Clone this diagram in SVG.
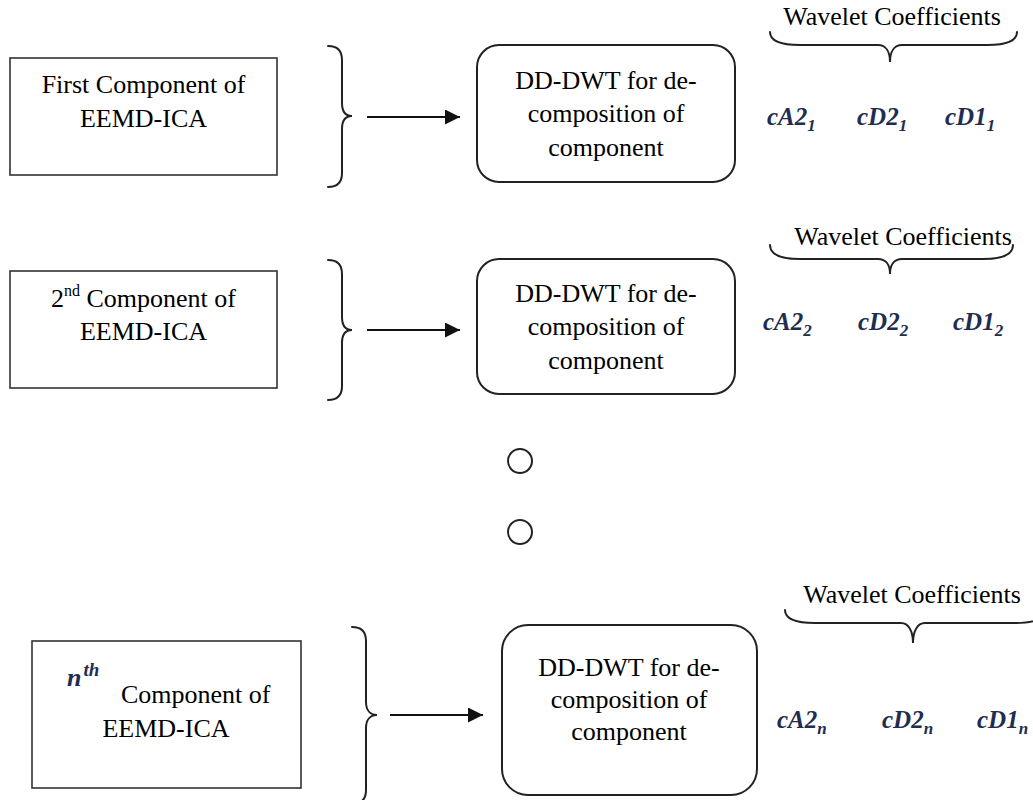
<svg xmlns="http://www.w3.org/2000/svg" width="1033" height="800" viewBox="0 0 1033 800">
<style>
  .t { font-family: "Liberation Serif", "Times New Roman", Times, "DejaVu Serif", serif; font-size: 26px; fill: #000; }
  .c { text-anchor: middle; }
  .m { font-family: "Liberation Serif", "Times New Roman", Times, "DejaVu Serif", serif; font-style: italic; font-weight: bold; font-size: 25px; fill: #202c50; }
  .box { fill: #fff; stroke: #333; stroke-width: 1.6; }
  .rbox { fill: #fff; stroke: #222; stroke-width: 2; }
  .brace { fill: none; stroke: #222; stroke-width: 2; stroke-linecap: round; }
  .arrow { stroke: #111; stroke-width: 2; fill: none; marker-end: url(#ah); }
  .dot { fill: none; stroke: #222; stroke-width: 2; }
</style>
<defs>
  <marker id="ah" markerWidth="15" markerHeight="15" refX="15" refY="7.5" orient="auto" markerUnits="userSpaceOnUse">
    <path d="M0,0 L15,7.5 L0,15 Z" fill="#111"/>
  </marker>
</defs>
<rect width="1033" height="800" fill="#fff"/>

<!-- Row 1 -->
<g id="comp1">
  <rect class="box" x="10" y="58" width="267" height="117"/>
  <text class="t c" x="143.5" y="93">First Component of</text>
  <text class="t c" x="143.5" y="127">EEMD-ICA</text>
</g>
<g id="dwt1">
  <rect class="rbox" x="477" y="45" width="258" height="137" rx="22" ry="22"/>
  <text class="t c" x="606" y="89">DD-DWT for de-</text>
  <text class="t c" x="606" y="122">composition of</text>
  <text class="t c" x="606" y="156">component</text>
</g>
<g id="coef1">
  <text class="t c" x="892" y="25">Wavelet Coefficients</text>
  <path class="brace" d="M770,32 C770,41 780,45 800,45 L878,45 C886,45 890,52 890,62 C890,52 894,45 902,45 L987,45 C1007,45 1017,41 1017,32"/>
  <text class="m" x="767" y="125">cA2<tspan font-size="17" dy="6">1</tspan></text>
  <text class="m" x="857" y="125">cD2<tspan font-size="17" dy="6">1</tspan></text>
  <text class="m" x="945" y="125">cD1<tspan font-size="17" dy="6">1</tspan></text>
</g>

<!-- Row 2 -->
<g id="comp2">
  <rect class="box" x="10" y="271" width="267" height="117"/>
  <text class="t c" x="143.5" y="307">2<tspan font-size="16" dy="-11">nd</tspan><tspan dy="11"> Component of</tspan></text>
  <text class="t c" x="143.5" y="340">EEMD-ICA</text>
</g>
<g id="dwt2">
  <rect class="rbox" x="477" y="259" width="258" height="135" rx="22" ry="22"/>
  <text class="t c" x="606" y="302">DD-DWT for de-</text>
  <text class="t c" x="606" y="335">composition of</text>
  <text class="t c" x="606" y="369">component</text>
</g>
<g id="coef2">
  <text class="t c" x="903" y="245">Wavelet Coefficients</text>
  <path class="brace" d="M770,245 C770,254 780,259 800,259 L878,259 C886,259 890,265 890,274 C890,265 894,259 902,259 L983,259 C1003,259 1013,254 1013,245"/>
  <text class="m" x="763" y="330">cA2<tspan font-size="17" dy="6">2</tspan></text>
  <text class="m" x="858" y="330">cD2<tspan font-size="17" dy="6">2</tspan></text>
  <text class="m" x="953" y="330">cD1<tspan font-size="17" dy="6">2</tspan></text>
</g>

<!-- Ellipsis circles -->
<g id="dots">
  <circle class="dot" cx="520" cy="461" r="12"/>
  <circle class="dot" cx="520" cy="532" r="12"/>
</g>

<!-- Row 3 -->
<g id="comp3">
  <rect class="box" x="32" y="641" width="269" height="147"/>
  <text class="m" x="67" y="686" style="font-size:26px">n<tspan dx="2" dy="-10" style="font-size:19px">th</tspan></text>
  <text class="t" x="121" y="703">Component of</text>
  <text class="t c" x="166" y="737">EEMD-ICA</text>
</g>
<g id="dwt3">
  <rect class="rbox" x="502" y="625" width="255" height="170" rx="26" ry="26"/>
  <text class="t c" x="629" y="676">DD-DWT for de-</text>
  <text class="t c" x="629" y="708">composition of</text>
  <text class="t c" x="629" y="740">component</text>
</g>
<g id="coef3">
  <text class="t c" x="912" y="603">Wavelet Coefficients</text>
  <path class="brace" d="M785,610 C785,619 795,623 815,623 L901,623 C909,623 913,632 913,643 C913,632 917,623 925,623 L1015,623 C1035,623 1045,619 1045,610"/>
  <text class="m" x="777" y="728">cA2<tspan font-size="17" dy="6">n</tspan></text>
  <text class="m" x="882" y="728">cD2<tspan font-size="17" dy="6">n</tspan></text>
  <text class="m" x="977" y="728">cD1<tspan font-size="17" dy="6">n</tspan></text>
</g>

<!-- Connectors: braces and arrows -->
<g id="connectors">
  <path class="brace" d="M328,46 C336,46 342,50 342,60 L342,103 C342,112 346,116 352,116 C346,116 342,120 342,129 L342,173 C342,183 336,187 328,187"/>
  <line class="arrow" x1="367" y1="117" x2="460" y2="117"/>
  <path class="brace" d="M328,260 C336,260 342,264 342,274 L342,317 C342,326 346,330 352,330 C346,330 342,334 342,343 L342,386 C342,396 336,400 328,400"/>
  <line class="arrow" x1="367" y1="330" x2="460" y2="330"/>
  <path class="brace" d="M352,627 C360,627 366,631 366,641 L366,702 C366,711 371,715 377,715 C371,715 366,719 366,728 L366,790 C366,800 360,804 352,804"/>
  <line class="arrow" x1="390" y1="715" x2="483" y2="715"/>
</g>
</svg>
